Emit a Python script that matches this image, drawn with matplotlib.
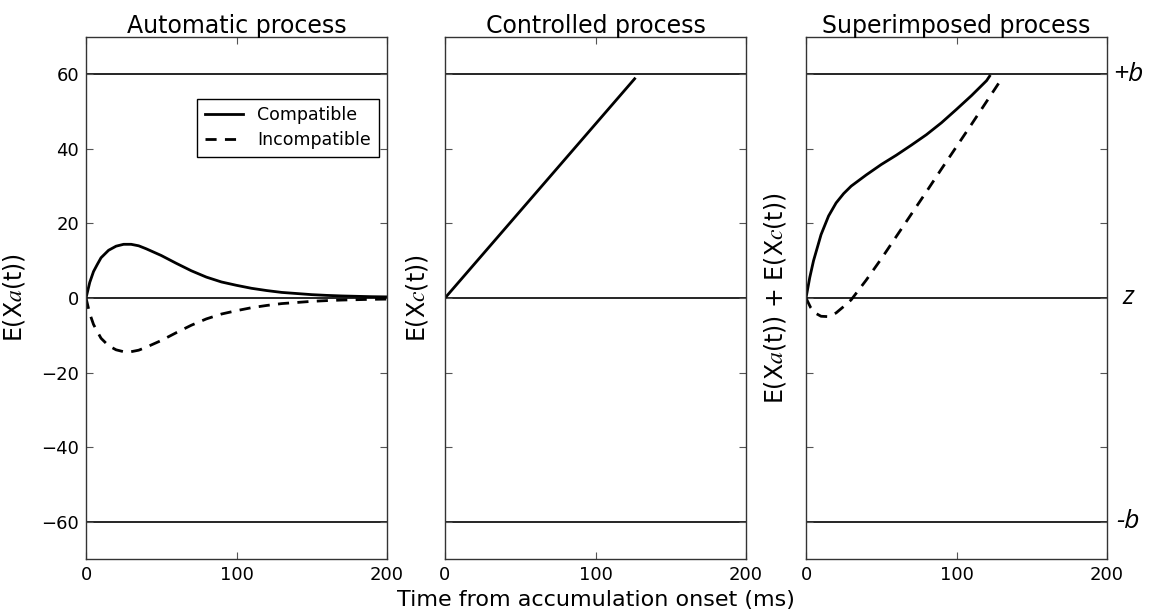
import matplotlib
matplotlib.use("Agg")
import matplotlib.pyplot as plt

plt.rcParams['font.family'] = ['DejaVu Sans']
plt.rcParams['mathtext.fontset'] = 'stix'

# ---- data ----
t_auto = [0, 2.5, 5, 7.5, 10, 15, 20, 25, 30, 35, 40, 50, 60, 70, 80, 90, 100,
          110, 120, 130, 140, 150, 160, 170, 180, 190, 200]
auto_comp = [0, 4.2, 7.1, 9.0, 10.8, 12.8, 13.9, 14.4, 14.4, 14.0, 13.2, 11.4, 9.3,
             7.3, 5.6, 4.3, 3.4, 2.6, 2.0, 1.5, 1.2, 0.9, 0.7, 0.55, 0.45, 0.35, 0.3]
auto_incomp = [0, -4.2, -7.1, -9.0, -10.8, -12.8, -13.9, -14.4, -14.4, -14.0, -13.2,
               -11.4, -9.3, -7.3, -5.6, -4.3, -3.4, -2.6, -2.0, -1.5, -1.2, -0.9,
               -0.7, -0.55, -0.45, -0.35, -0.3]

t_ctrl = [0, 126]
ctrl = [0, 58.8]

t_sup_comp = [0, 2.5, 5, 7.5, 10, 15, 20, 25, 30, 40, 50, 60, 70, 80, 90, 100, 110, 120, 122]
sup_comp = [0, 5.5, 10.0, 13.5, 17.0, 22.0, 25.5, 28.0, 30.0, 33.0, 35.8, 38.3, 41.0,
            43.8, 47.0, 50.6, 54.3, 58.3, 59.5]

t_sup_incomp = [0, 3, 6, 10, 15, 20, 25, 30, 40, 50, 60, 70, 80, 90, 100, 110, 120, 130]
sup_incomp = [0, -2.5, -4.0, -4.9, -5.0, -4.0, -2.3, -0.5, 4.8, 10.5, 16.5, 22.5,
              28.5, 34.6, 40.6, 46.6, 52.7, 58.8]

bounds = [60, 0, -60]
bound_labels = ['+b', 'z', '-b']
titles = ['Automatic process', 'Controlled process', 'Superimposed process']
ylabels = [r'E(X$a$(t))', r'E(X$c$(t))', r'E(X$a$(t)) + E(X$c$(t))']
xticks = [0, 100, 200]
yticks = [-60, -40, -20, 0, 20, 40, 60]

fig = plt.figure(figsize=(11.5, 6.12), dpi=100)
lefts = [86 / 1150, 445 / 1150, 806 / 1150]
width = 301 / 1150
bottom = 1 - 559 / 612
height = 522 / 612
axes = [fig.add_axes([l, bottom, width, height]) for l in lefts]
label_x = [-0.196, -0.05, -0.06]

for i, ax in enumerate(axes):
    for b in bounds:
        ax.axhline(b, color='black', lw=1.2, zorder=1)
    ax.set_xlim(0, 200)
    ax.set_ylim(-70, 70)
    ax.set_xticks(xticks)
    ax.set_yticks(yticks)
    ax.tick_params(direction='in', top=True, right=True, length=5, width=0.8,
                   labelsize=13, color='#555555', pad=5)
    for s in ax.spines.values():
        s.set_color('#333333')
        s.set_linewidth(1.0)
    ax.set_title(titles[i], fontsize=17, pad=3)
    ax.set_ylabel(ylabels[i], fontsize=17)
    ax.yaxis.set_label_coords(label_x[i], 0.5)
    if i > 0:
        ax.set_yticklabels([])

ax1, ax2, ax3 = axes
ax1.plot(t_auto, auto_comp, color='black', lw=2, label='Compatible')
ax1.plot(t_auto, auto_incomp, color='black', lw=2, ls='--', dashes=(4, 3), label='Incompatible')
leg = ax1.legend(loc='upper right', bbox_to_anchor=(0.972, 0.882), fontsize=12.5,
                 fancybox=False, framealpha=1, handlelength=2.2, borderpad=0.45,
                 labelspacing=0.4, handletextpad=0.8, borderaxespad=0)
leg.get_frame().set_edgecolor('black')
leg.get_frame().set_linewidth(1.0)

ax2.plot(t_ctrl, ctrl, color='black', lw=2)

ax3.plot(t_sup_comp, sup_comp, color='black', lw=2)
ax3.plot(t_sup_incomp, sup_incomp, color='black', lw=2, ls='--', dashes=(4, 3))

for b, lab in zip(bounds, bound_labels):
    ax3.text(1.07, b, lab, transform=ax3.get_yaxis_transform(), fontsize=19,
             style='italic', family='Open Sans', va='center', ha='center')

fig.text(0.518, 0.004, 'Time from accumulation onset (ms)', fontsize=16, ha='center', va='bottom')

fig.savefig('out.png', dpi=100)
